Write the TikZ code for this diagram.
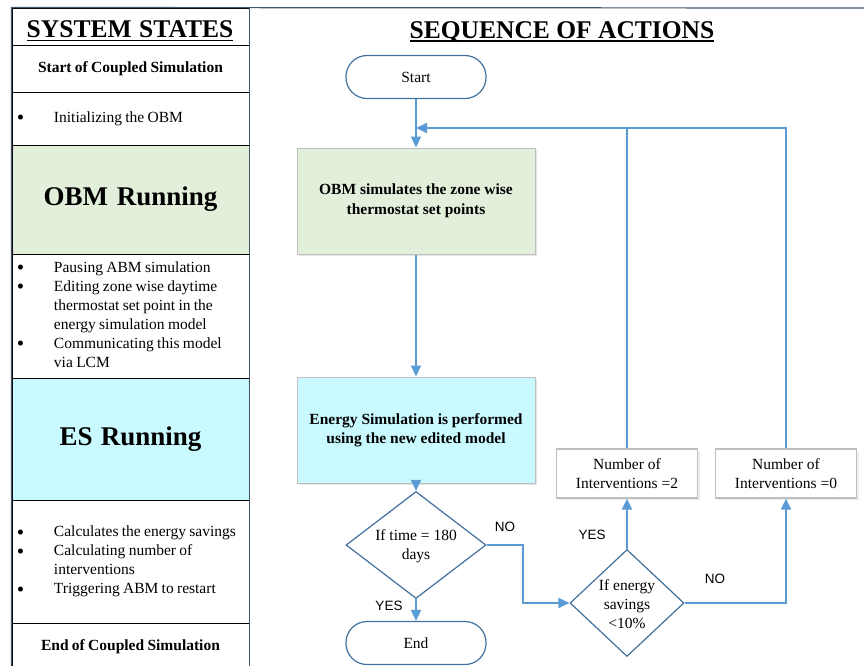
\documentclass[tikz,border=0pt]{standalone}
\usepackage{fontspec}
\setmainfont{Liberation Serif}
\newfontfamily\labfont{Liberation Sans}
\usetikzlibrary{shapes.geometric,arrows.meta,shadows}
\definecolor{flowblue}{HTML}{5B9BD5}
\definecolor{edgeblue}{HTML}{41719C}
\definecolor{framecol}{HTML}{44546A}
\definecolor{obmgreen}{HTML}{E2EFDA}
\definecolor{escyan}{HTML}{C9FAFF}
\definecolor{boxgray}{HTML}{BFBFBF}
\newcommand{\bodyfont}{\fontsize{15.5}{19}\selectfont}
\newcommand{\flowfont}{\fontsize{15.5}{19.5}\selectfont}
\newcommand{\titlefont}{\fontsize{25.5}{30}\selectfont\bfseries}
\newcommand{\bigfont}{\fontsize{27}{32}\selectfont\bfseries}
\newcommand{\thickul}[1]{\setbox0=\hbox{#1}\hbox{\rlap{\copy0}\rule[-3.5pt]{\wd0}{1.4pt}}}
\newcommand{\bul}{\hspace{1pt}\raisebox{-2.6pt}[0pt][0pt]{\fontsize{21}{19}\selectfont\textbullet}}
\begin{document}
\begin{tikzpicture}[x=1pt,y=-1pt,
  cell/.style={draw=black, line width=1pt, minimum width=237pt, inner sep=0pt, text width=229pt, align=center},
  bullcell/.style={cell, align=left},
  terminal/.style={draw=edgeblue, line width=1.2pt, rounded corners=21pt, minimum width=140pt, minimum height=43pt, inner sep=0pt, font=\bodyfont, fill=white},
  procbox/.style={draw=boxgray, line width=1pt, minimum width=238pt, minimum height=106pt, inner sep=0pt, align=center, font=\flowfont\bfseries, drop shadow={opacity=0.2, shadow xshift=2pt, shadow yshift=-2pt}},
  numbox/.style={draw=boxgray, line width=1.2pt, minimum width=141pt, minimum height=49pt, inner sep=0pt, align=center, font=\bodyfont, fill=white, drop shadow={opacity=0.15, shadow xshift=2pt, shadow yshift=-2pt}},
  decision/.style={diamond, draw=edgeblue, line width=1.2pt, inner sep=0pt, fill=white},
  flow/.style={draw=flowblue, line width=1.8pt, -{Triangle[length=11pt,width=10pt]}},
  flowline/.style={draw=flowblue, line width=1.8pt},
  yn/.style={font=\labfont\fontsize{13.5}{15}\selectfont, inner sep=0pt}
]
\useasboundingbox (0,0) rectangle (864,665);

% ---------------- left column ----------------
\node[cell] (c0) at (130.5,26.5) [minimum height=37pt] {};
\node[inner sep=0pt] (t1) at (130,31) {\titlefont\thickul{SYSTEM\hspace{0.3em}STATES}};
\node[cell] (c1) at (130.5,68.5) [minimum height=47pt] {\fontsize{15.5}{19}\selectfont\bfseries Start of Coupled Simulation};
\node[bullcell] (c2) at (130.5,118.5) [minimum height=53pt] {\bodyfont
  \begin{tabular}{@{}p{38pt}@{}l@{}}
  \bul & Initializing the OBM
  \end{tabular}};
\node[cell, fill=obmgreen] (c3) at (130.5,199.5) [minimum height=109pt] {\bigfont OBM\hspace{0.33em}Running};
\node[bullcell] (c4) at (130.5,316) [minimum height=124pt] {\bodyfont
  \begin{tabular}{@{}p{38pt}@{}l@{}}
  \bul & Pausing ABM simulation\\
  \bul & Editing zone wise daytime\\
   & thermostat set point in the\\
   & energy simulation model\\
  \bul & Communicating this model\\
   & via LCM
  \end{tabular}};
\node[cell, fill=escyan] (c5) at (130.5,439) [minimum height=122pt] {\bigfont ES\hspace{0.3em}Running};
\node[bullcell] (c6) at (130.5,561.5) [minimum height=123pt] {\bodyfont
  \begin{tabular}{@{}p{38pt}@{}l@{}}
  \bul & Calculates the energy savings\\
  \bul & Calculating number of\\
   & interventions\\
  \bul & Triggering ABM to restart
  \end{tabular}};
\node[cell] (c7) at (130.5,646.5) [minimum height=47pt] {\fontsize{15.5}{19}\selectfont\bfseries End of Coupled Simulation};

% frame lines
\draw[framecol, line width=1.2pt] (c7.south west) -- (c0.north west) -- (864,8);
\draw[framecol, line width=1.2pt] (c0.north east) -- (c7.south east);

% ---------------- right side ----------------
\node[inner sep=0pt] (t2) at (562,32) {\titlefont\thickul{SEQUENCE OF ACTIONS}};

\node[terminal] (start) at (416,77) {Start};
\node[procbox, fill=obmgreen] (obm) at (416,201) {OBM simulates the zone wise\\thermostat set points};
\node[procbox, fill=escyan] (es) at (416,430) {Energy Simulation is performed\\using the new edited model};
\node[decision, minimum width=140pt, minimum height=107pt] (d1) at (416,545) {};
\node[align=center, font=\bodyfont, inner sep=0pt] (d1t) at (416,546) {If time = 180\\days};
\node[terminal] (end) at (416,643) {End};
\node[decision, minimum width=114pt, minimum height=107pt] (d2) at (627,603) {};
\node[align=center, font=\bodyfont, inner sep=0pt] (d2t) at (627,604) {If energy\\savings\\<10\%};
\node[numbox] (n2) at (627,473.5) {Number of\\Interventions =2};
\node[numbox] (n0) at (786,473.5) {Number of\\Interventions =0};

\coordinate (loop) at (416,128);

% connectors
\draw[flow] (start.south) -- (obm.north);
\draw[flow] (obm.south) -- (es.north);
\draw[flow] (es.south) -- (d1.north);
\draw[flow] (d1.south) -- (end.north);
\draw[flow] (d1.east) -- ++(36,0) |- (d2.west);
\draw[flow] (d2.north) -- (n2.south);
\draw[flow] (d2.east) -| (n0.south);
\draw[flow] (n2.north) |- (loop);
\draw[flowline] (n0.north) |- (n2.north |- loop);

% labels
\node[yn] (lno1) at (505,527) {NO};
\node[yn] (lyes1) at (389,606) {YES};
\node[yn] (lyes2) at (592,535) {YES};
\node[yn] (lno2) at (715,579) {NO};
\end{tikzpicture}
\end{document}
